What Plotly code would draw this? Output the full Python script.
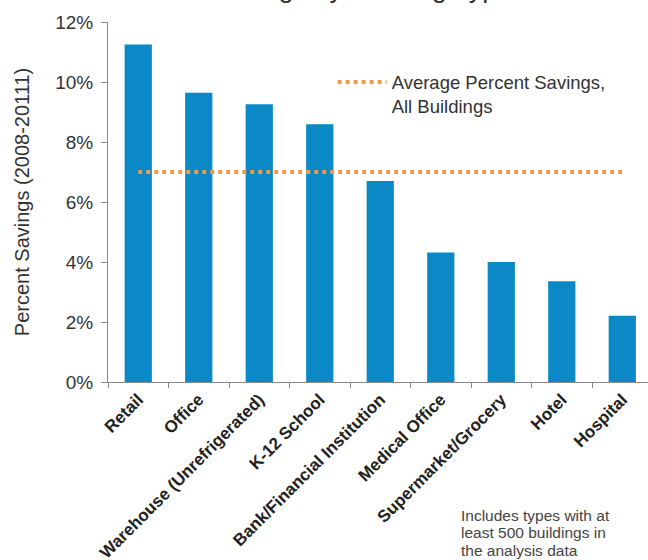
import plotly.graph_objects as go

# Building types and their percent savings, 2008-2011
building_types = [
    "Retail",
    "Office",
    "Warehouse (Unrefrigerated)",
    "K-12 School",
    "Bank/Financial Institution",
    "Medical Office",
    "Supermarket/Grocery",
    "Hotel",
    "Hospital",
]
percent_savings = [11.25, 9.64, 9.26, 8.59, 6.70, 4.32, 4.00, 3.36, 2.21]
average_savings = 7.0

y_ticks = [0, 2, 4, 6, 8, 10, 12]
y_tick_labels = ["0%", "2%", "4%", "6%", "8%", "10%", "12%"]

note_lines = ["Includes types with at", "least 500 buildings in", "the analysis data"]

FONT = "Liberation Sans, Arial, sans-serif"
BAR_BLUE = "#0A89C6"
AVG_ORANGE = "#F29A4C"
AXIS_GRAY = "#8a8a8a"

PLOT_LEFT, PLOT_TOP, PLOT_W, PLOT_H = 108, 22, 540, 360

fig = go.Figure()

fig.add_trace(go.Bar(
    x=building_types,
    y=percent_savings,
    marker=dict(color=BAR_BLUE, line=dict(width=0)),
    showlegend=False,
    hoverinfo="x+y",
))

fig.add_trace(go.Scatter(
    x=building_types,
    y=[average_savings] * len(building_types),
    mode="lines",
    line=dict(color=AVG_ORANGE, width=4, dash="dot"),
    name="Average Percent Savings,<br>All Buildings",
    showlegend=True,
))

# Footnote, one line per annotation for tighter line spacing
note_annotations = [
    dict(
        text=line,
        xref="paper", yref="paper",
        x=(459 - PLOT_LEFT) / PLOT_W,
        y=1 - (yc - PLOT_TOP) / PLOT_H,
        xanchor="left", yanchor="middle",
        showarrow=False,
        font=dict(family=FONT, size=15.5, color="#444444"),
    )
    for line, yc in zip(note_lines, [515, 532.5, 550])
]

fig.update_layout(
    width=648,
    height=560,
    template="none",
    paper_bgcolor="white",
    plot_bgcolor="white",
    margin=dict(l=PLOT_LEFT, r=0, t=PLOT_TOP, b=560 - PLOT_TOP - PLOT_H, autoexpand=False),
    bargap=0.55,
    font=dict(family=FONT, color="#333333"),
    showlegend=True,
    legend=dict(
        x=0.416,
        y=0.885,
        xanchor="left",
        yanchor="top",
        valign="top",
        itemwidth=49,
        bgcolor="rgba(0,0,0,0)",
        font=dict(family=FONT, size=18.5, color="#333333"),
        tracegroupgap=0,
    ),
    xaxis=dict(
        type="category",
        categoryorder="array",
        categoryarray=building_types,
        range=[-0.5, 8.425],
        showline=True,
        linecolor=AXIS_GRAY,
        linewidth=1,
        ticks="outside",
        tickson="boundaries",
        ticklen=5,
        tickcolor=AXIS_GRAY,
        tickangle=-45,
        tickfont=dict(family=FONT, size=17, color="#222222", weight="bold"),
        showgrid=False,
        zeroline=False,
        automargin=False,
    ),
    yaxis=dict(
        range=[0, 12],
        tickvals=y_ticks,
        ticktext=y_tick_labels,
        showline=True,
        linecolor=AXIS_GRAY,
        linewidth=1,
        ticks="outside",
        ticklen=6,
        tickcolor=AXIS_GRAY,
        tickfont=dict(family=FONT, size=19, color="#333333"),
        ticklabelstandoff=4,
        showgrid=False,
        zeroline=False,
        automargin=False,
        title=dict(
            text="Percent Savings (2008-20111)",
            font=dict(family=FONT, size=20, color="#333333"),
            standoff=20,
        ),
    ),
    annotations=[
        dict(
            text="Savings by Building Type",
            xref="paper", yref="paper",
            x=0.47, y=1.046,
            xanchor="center", yanchor="bottom",
            showarrow=False,
            font=dict(family=FONT, size=27, color="#333333"),
        ),
    ] + note_annotations,
)

fig.write_html("out.html")
